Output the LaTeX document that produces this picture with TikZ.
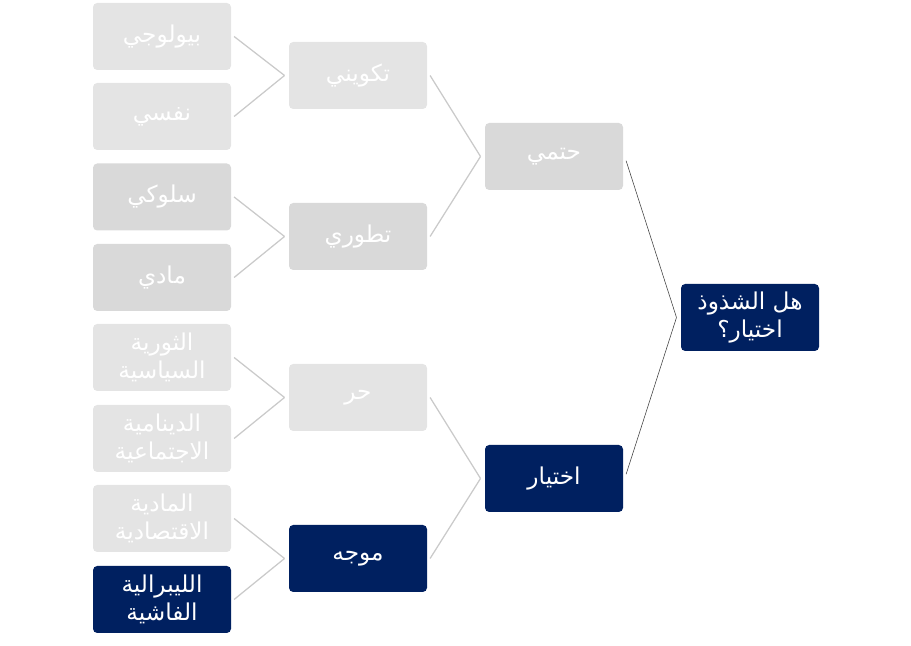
\documentclass[tikz,border=0pt]{standalone}
\usepackage{fontspec}
\newfontfamily\arabicfont[Script=Arabic]{DejaVu Sans}
\TeXXeTstate=1
\usetikzlibrary{positioning,calc}
\definecolor{navybox}{HTML}{002060}
\definecolor{palegray}{HTML}{E4E4E4}
\definecolor{midgray}{HTML}{D9D9D9}
\definecolor{linkgray}{HTML}{CACACA}
\tikzset{
  box/.style={rectangle, rounded corners=3pt, minimum width=3.45cm, minimum height=1.675cm,
    text=white, align=center, inner sep=1pt, font=\arabicfont\fontsize{16.5pt}{20pt}\selectfont},
  palebox/.style={box, fill=palegray},
  midbox/.style={box, fill=midgray},
  darkbox/.style={box, fill=navybox},
  link/.style={draw=linkgray, line width=0.9pt},
  rootlink/.style={draw=black!75, line width=0.4pt}
}
\newcommand{\ar}[1]{\beginR #1\endR}
\begin{document}
\begin{tikzpicture}
  \useasboundingbox (0,0) rectangle (22.775,16.15);

  % Root
  \node[darkbox] (root) at (18.75,8.2125) {\ar{هل الشذوذ}\\\ar{اختيار؟}};

  % Second level
  \node[midbox] (hatmi) at (13.85,12.2375) {\ar{حتمي}};
  \node[darkbox] (ikhtiyar) at (13.85,4.1875) {\ar{اختيار}};

  % Third level
  \node[palebox] (takwini) at (8.95,14.2625) {\ar{تكويني}};
  \node[midbox] (tatawwuri) at (8.95,10.2375) {\ar{تطوري}};
  \node[palebox] (hurr) at (8.95,6.2125) {\ar{حر}};
  \node[darkbox] (muwajjah) at (8.95,2.1875) {\ar{موجه}};

  % Leaves
  \node[palebox] (biolog) at (4.05,15.2375) {\ar{بيولوجي}};
  \node[palebox] (nafsi) at (4.05,13.2375) {\ar{نفسي}};
  \node[midbox] (suluki) at (4.05,11.225) {\ar{سلوكي}};
  \node[midbox] (maddi) at (4.05,9.2125) {\ar{مادي}};
  \node[palebox] (thawra) at (4.05,7.2125) {\ar{الثورية}\\\ar{السياسية}};
  \node[palebox] (dinamiya) at (4.05,5.1875) {\ar{الدينامية}\\\ar{الاجتماعية}};
  \node[palebox] (iqtisad) at (4.05,3.1875) {\ar{المادية}\\\ar{الاقتصادية}};
  \node[darkbox] (libirali) at (4.05,1.1625) {\ar{الليبرالية}\\\ar{الفاشية}};

  % Leaf links
  \foreach \kid/\dad in {biolog/takwini, nafsi/takwini, suluki/tatawwuri, maddi/tatawwuri,
      thawra/hurr, dinamiya/hurr, iqtisad/muwajjah, libirali/muwajjah}
    \draw[link] ([xshift=2pt]\kid.east) -- ([xshift=-3pt]\dad.west);

  % Middle links
  \foreach \kid/\dad in {takwini/hatmi, tatawwuri/hatmi, hurr/ikhtiyar, muwajjah/ikhtiyar}
    \draw[link] ([xshift=2pt]\kid.east) -- ([xshift=-3pt]\dad.west);

  % Root links
  \draw[rootlink] ([xshift=2pt,yshift=-3pt]hatmi.east) -- ([xshift=-3pt]root.west);
  \draw[rootlink] ([xshift=2pt,yshift=3pt]ikhtiyar.east) -- ([xshift=-3pt]root.west);
\end{tikzpicture}
\end{document}
